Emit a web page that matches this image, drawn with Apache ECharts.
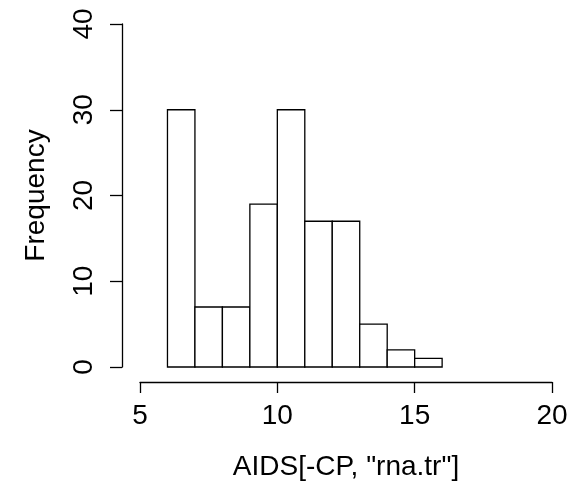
<!DOCTYPE html>
<html>
<head>
<meta charset="utf-8">
<script src="https://cdn.jsdelivr.net/npm/echarts@6/dist/echarts.min.js"></script>
<style>html,body{margin:0;padding:0;background:#fff}#c{width:582px;height:486px}</style>
</head>
<body>
<div id="c"></div>
<script>
var binStarts = [6, 7, 8, 9, 10, 11, 12, 13, 14, 15];
var binWidth = 1;
var counts = [30, 7, 7, 19, 30, 17, 17, 5, 2, 1];
var xTicks = [5, 10, 15, 20];
var yTicks = [0, 10, 20, 30, 40];
var xTitle = 'AIDS[-CP, "rna.tr"]';
var yTitle = 'Frequency';

var data = binStarts.map(function (s, i) { return [s, s + binWidth, counts[i]]; });
var FONT = 'Liberation Sans, Arial, Helvetica, sans-serif';
var FS = 28;

var chart = echarts.init(document.getElementById('c'), null, {renderer: 'canvas'});
chart.setOption({
  animation: false,
  backgroundColor: '#fff',
  grid: {left: 140, right: 30, top: 24, bottom: 119, containLabel: false},
  xAxis: {
    type: 'value', min: xTicks[0], max: xTicks[xTicks.length - 1], interval: 5,
    offset: 15,
    axisLine: {show: true, onZero: false, lineStyle: {color: '#000', width: 1.3}},
    axisTick: {show: true, inside: false, length: 11, lineStyle: {color: '#000', width: 1.3}},
    axisLabel: {color: '#000', fontSize: FS, fontFamily: FONT, margin: 20},
    splitLine: {show: false},
    name: xTitle, nameLocation: 'middle', nameGap: 71,
    nameTextStyle: {color: '#000', fontSize: FS, fontFamily: FONT}
  },
  yAxis: {
    type: 'value', min: yTicks[0], max: yTicks[yTicks.length - 1], interval: 10,
    offset: 18,
    axisLine: {show: true, lineStyle: {color: '#000', width: 1.3}},
    axisTick: {show: true, inside: false, length: 12, lineStyle: {color: '#000', width: 1.3}},
    axisLabel: {color: '#000', fontSize: FS, fontFamily: FONT, rotate: 90, margin: 24},
    splitLine: {show: false},
    name: yTitle, nameLocation: 'middle', nameGap: 72, nameRotate: 90,
    nameTextStyle: {color: '#000', fontSize: FS, fontFamily: FONT}
  },
  series: [{
    type: 'custom',
    data: data,
    encode: {x: [0, 1], y: 2},
    renderItem: function (params, api) {
      var p0 = api.coord([api.value(0), api.value(2)]);
      var p1 = api.coord([api.value(1), 0]);
      return {
        type: 'rect',
        shape: {x: p0[0], y: p0[1], width: p1[0] - p0[0], height: p1[1] - p0[1]},
        style: {fill: '#fff', stroke: '#000', lineWidth: 1.3}
      };
    }
  }]
});
</script>
</body>
</html>
